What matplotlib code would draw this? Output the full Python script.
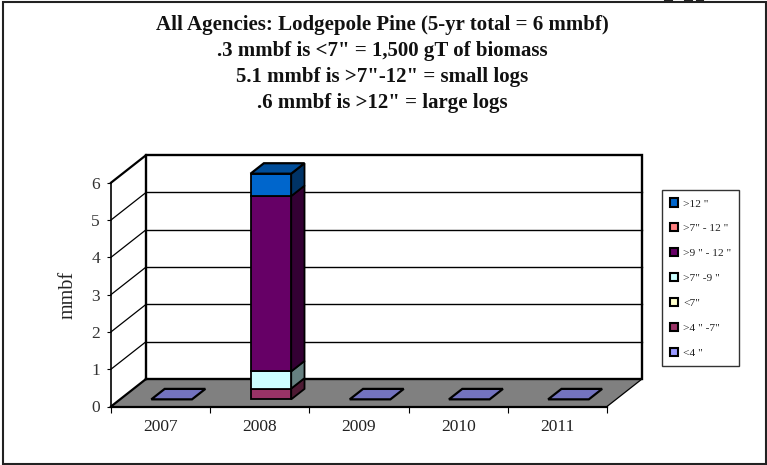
import matplotlib
matplotlib.use("Agg")
import matplotlib.pyplot as plt
import numpy as np
from matplotlib.patches import Patch, Polygon, Rectangle

plt.rcParams["font.family"] = ["Liberation Serif", "DejaVu Serif"]

years = ["2007", "2008", "2009", "2010", "2011"]
classes = ['<4 "', '>4 " -7"', '<7"', '>7" -9 "', '>9 " - 12 "', '>7" - 12 "', '>12 "']
# one list per diameter class, stacked from the floor up
under_4 = [0, 0, 0, 0, 0]
from_4_to_7 = [0, 0.29, 0, 0, 0]
under_7 = [0, 0, 0, 0, 0]
from_7_to_9 = [0, 0.46, 0, 0, 0]
from_9_to_12 = [0, 4.7, 0, 0, 0]
from_7_to_12 = [0, 0, 0, 0, 0]
over_12 = [0, 0.6, 0, 0, 0]
series = [under_4, from_4_to_7, under_7, from_7_to_9, from_9_to_12, from_7_to_12, over_12]
colors = ["#9999FF", "#993366", "#FFFFCC", "#CCFFFF", "#660066", "#FF8080", "#0066CC"]
yticks = [0, 1, 2, 3, 4, 5, 6]

title_lines = [
    "All Agencies: Lodgepole Pine (5-yr total = 6 mmbf)",
    '.3 mmbf is <7" = 1,500 gT of biomass',
    '5.1 mmbf is >7"-12" = small logs',
    '.6 mmbf is >12" = large logs',
]
title_y = [25, 51, 77, 103]

W, H = 767, 465
fig = plt.figure(figsize=(W / 100, H / 100), dpi=100, facecolor="white")

# outer frame of the picture
fig.add_artist(Rectangle((2.5 / W, 1 - 464 / H), 763 / W, 462 / H, transform=fig.transFigure,
                         fill=False, edgecolor="#222222", linewidth=1.5))
for x0, x1 in [(665, 672), (685, 692), (697, 703)]:
    fig.add_artist(plt.Line2D([x0 / W, x1 / W], [1 - 1 / H, 1 - 1 / H], color="#222222", linewidth=1.5))

# axes rectangle is the front plane of the 3-D box
left, right, top, bottom = 111, 607, 182.7, 406.5
ax = fig.add_axes([left / W, 1 - bottom / H, (right - left) / W, (bottom - top) / H])
ax.set_xlim(0, len(years))
ax.set_ylim(0, 6)
ax.patch.set_visible(False)

px_x = len(years) / (right - left)
px_y = 6 / (bottom - top)
DEPTH_X = 35 * px_x
DEPTH_Y = 27.5 * px_y


def skew(x, y, d):
    """Project a front-plane point back to depth d (0 front, 1 back wall)."""
    return x + d * DEPTH_X, y + d * DEPTH_Y


def face(pts, color, lw=1.3, zorder=2, edge="black"):
    ax.add_patch(Polygon(pts, closed=True, facecolor=color, edgecolor=edge, linewidth=lw,
                         zorder=zorder, clip_on=False, joinstyle="miter"))


def shade(hex_color, k):
    return tuple(c * k for c in matplotlib.colors.to_rgb(hex_color))


n = len(years)
ymax = yticks[-1]

# floor and back wall
face([skew(0, 0, 0), skew(n, 0, 0), skew(n, 0, 1), skew(0, 0, 1)], "#808080", lw=0, edge="none", zorder=1)
for v in yticks[1:-1]:
    ax.plot(*zip(skew(0, v, 1), skew(n, v, 1)), color="black", lw=1.0, zorder=1.5, clip_on=False)
    ax.plot(*zip(skew(0, v, 0), skew(0, v, 1)), color="black", lw=0.9, zorder=1.5, clip_on=False)
ax.plot(*zip(skew(0, 0, 0), skew(0, 0, 1)), color="black", lw=1.6, zorder=1.5, clip_on=False)
ax.plot(*zip(skew(0, ymax, 0), skew(0, ymax, 1)), color="black", lw=1.6, zorder=1.5, clip_on=False)
ax.plot(*zip(skew(n, 0, 0), skew(n, 0, 1)), color="black", lw=0.9, zorder=1.5, clip_on=False)
ax.plot(*zip(skew(0, 0, 1), skew(0, ymax, 1), skew(n, ymax, 1), skew(n, 0, 1), skew(0, 0, 1)),
        color="black", lw=1.7, zorder=1.6, clip_on=False, solid_joinstyle="miter")

# stacked bars: front, side and top faces of each block
bar_w = 0.41
d0, d1 = 0.26, 0.64
for i in range(n):
    x0 = i + 0.52 - bar_w / 2
    x1 = x0 + bar_w
    base = 0
    last_top = None
    for vals, col in zip(series, colors):
        v = vals[i]
        if v > 0:
            t = base + v
            face([skew(x1, base, d0), skew(x1, base, d1), skew(x1, t, d1), skew(x1, t, d0)], shade(col, 0.5), zorder=3)
            face([skew(x0, base, d0), skew(x1, base, d0), skew(x1, t, d0), skew(x0, t, d0)], col, zorder=4)
            base = t
            last_top = col
    top_col = last_top if last_top else colors[0]
    face([skew(x0, base, d0), skew(x1, base, d0), skew(x1, base, d1), skew(x0, base, d1)],
         shade(top_col, 0.75), lw=1.6, zorder=5)

for side in ["top", "right"]:
    ax.spines[side].set_visible(False)
ax.spines["left"].set_linewidth(1.2)
ax.spines["bottom"].set_linewidth(1.6)
ax.set_xticks(range(n + 1))
ax.set_xticklabels([])
ax.set_xticks(np.arange(n) + 0.5, years, minor=True)
ax.set_yticks(yticks)
ax.tick_params(axis="x", which="major", length=4, width=0.8, direction="out")
ax.tick_params(axis="x", which="minor", length=0, pad=9, labelsize=12.5, labelcolor="#222222")
ax.tick_params(axis="y", length=3, width=0.8, pad=5, labelsize=12.5, labelcolor="#333333")
ax.set_ylabel("mmbf", fontsize=14.5, color="#222222", labelpad=10)

# title block
for line, y in zip(title_lines, title_y):
    fig.text(382 / W, 1 - y / H, line, ha="center", va="center", fontsize=15, fontweight="bold", color="#111111")

# legend, top entry is the top of the stack
handles = [Patch(facecolor=c, edgecolor="black", linewidth=1.5) for c in colors[::-1]]
leg = fig.legend(handles, classes[::-1], loc="upper left", bbox_to_anchor=(662 / W, 1 - 190.5 / H),
                 bbox_transform=fig.transFigure, fontsize=8.2, frameon=True, fancybox=False,
                 edgecolor="#333333", framealpha=1, borderaxespad=0, handlelength=0.72, handleheight=0.72,
                 handletextpad=0.42, labelspacing=1.3, borderpad=0.7, labelcolor="#222222")
leg.get_frame().set_linewidth(1.0)

fig.savefig("out.png", dpi=100, facecolor="white")
